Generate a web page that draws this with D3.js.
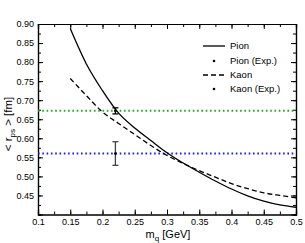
<!DOCTYPE html>
<html>
<head>
<meta charset="utf-8">
<script src="https://cdn.jsdelivr.net/npm/d3@7"></script>
<style>
  body { margin: 0; background: #fff; }
  svg text { font-family: "Liberation Sans", Arial, sans-serif; }
</style>
</head>
<body>
<div id="box"></div>
<script>
var w = 305,
    h = 243;

// quark mass grid [GeV]
var mq = [0.15, 0.175, 0.2, 0.225, 0.25, 0.275, 0.3, 0.325, 0.35, 0.375, 0.4, 0.425, 0.45, 0.475, 0.5];
// charge radius [fm]
var pion = [0.888, 0.795, 0.725, 0.666, 0.627, 0.594, 0.562, 0.535, 0.511, 0.488, 0.467, 0.449, 0.435, 0.425, 0.419];
var kaon = [0.757, 0.712, 0.669, 0.639, 0.610, 0.581, 0.555, 0.534, 0.515, 0.498, 0.481, 0.468, 0.457, 0.450, 0.444];

// experimental points: [mq, radius, error]
var pionExp = [0.22, 0.672, 0.008];
var kaonExp = [0.22, 0.560, 0.031];

var xTicks = [0.1, 0.15, 0.2, 0.25, 0.3, 0.35, 0.4, 0.45, 0.5];
var yTicks = [0.45, 0.5, 0.55, 0.6, 0.65, 0.7, 0.75, 0.8, 0.85, 0.9];
var legendLabels = ["Pion", "Pion (Exp.)", "Kaon", "Kaon (Exp.)"];

var m = {left: 38, right: 9, top: 24, bottom: 28.5};

var x = d3.scaleLinear().domain([0.1, 0.5]).range([m.left, w - m.right]);
var y = d3.scaleLinear().domain([0.4, 0.9]).range([h - m.bottom, m.top]);

var svg = d3.select("#box")
            .append("svg")
            .attr("width", w)
            .attr("height", h);

var xMinor = d3.range(0.1, 0.5001, 0.025);
var yMinor = d3.range(0.4, 0.9001, 0.025);

// bottom
svg.append("g")
   .attr("transform", "translate(0," + y(0.4) + ")")
   .call(d3.axisBottom(x).tickValues(xMinor).tickSize(-3).tickFormat(""));
svg.append("g")
   .attr("transform", "translate(0," + y(0.4) + ")")
   .call(d3.axisBottom(x).tickValues(xTicks).tickSize(-5).tickPadding(4)
         .tickFormat(d3.format("")));
// top
svg.append("g")
   .attr("transform", "translate(0," + y(0.9) + ")")
   .call(d3.axisTop(x).tickValues(xMinor).tickSize(-3).tickFormat(""));
svg.append("g")
   .attr("transform", "translate(0," + y(0.9) + ")")
   .call(d3.axisTop(x).tickValues(xTicks).tickSize(-5).tickFormat(""));
// left
svg.append("g")
   .attr("transform", "translate(" + x(0.1) + ",0)")
   .call(d3.axisLeft(y).tickValues(yMinor).tickSize(-3).tickFormat(""));
svg.append("g")
   .attr("transform", "translate(" + x(0.1) + ",0)")
   .call(d3.axisLeft(y).tickValues(yTicks).tickSize(-5).tickPadding(4)
         .tickFormat(d3.format(".2f")));
// right
svg.append("g")
   .attr("transform", "translate(" + x(0.5) + ",0)")
   .call(d3.axisRight(y).tickValues(yMinor).tickSize(-3).tickFormat(""));
svg.append("g")
   .attr("transform", "translate(" + x(0.5) + ",0)")
   .call(d3.axisRight(y).tickValues(yTicks).tickSize(-5).tickFormat(""));

svg.selectAll(".domain").attr("stroke", "#000").attr("stroke-width", 1.2);
svg.selectAll(".tick line").attr("stroke", "#000").attr("stroke-width", 1);
svg.selectAll(".tick text")
   .attr("font-family", "Liberation Sans, Arial, sans-serif")
   .attr("font-size", "9px")
   .attr("fill", "#000");

// experimental reference lines
svg.append("line")
   .attr("x1", x(0.1)).attr("x2", x(0.5))
   .attr("y1", y(pionExp[1])).attr("y2", y(pionExp[1]))
   .attr("stroke", "#22aa22").attr("stroke-width", 2)
   .attr("stroke-dasharray", "1.6,2.7");
svg.append("line")
   .attr("x1", x(0.1)).attr("x2", x(0.5))
   .attr("y1", y(kaonExp[1])).attr("y2", y(kaonExp[1]))
   .attr("stroke", "#1a1aff").attr("stroke-width", 2)
   .attr("stroke-dasharray", "1.6,2.7");

var line = d3.line()
             .x(function(d) { return x(d[0]); })
             .y(function(d) { return y(d[1]); })
             .curve(d3.curveMonotoneX);

svg.append("path")
   .datum(d3.zip(mq, pion))
   .attr("d", line)
   .attr("fill", "none")
   .attr("stroke", "#000")
   .attr("stroke-width", 1.3);

svg.append("path")
   .datum(d3.zip(mq, kaon))
   .attr("d", line)
   .attr("fill", "none")
   .attr("stroke", "#000")
   .attr("stroke-width", 1.3)
   .attr("stroke-dasharray", "5,3");

// error bars
function errBar(d, col) {
  var g = svg.append("g").attr("stroke", col).attr("stroke-width", 1.3);
  g.append("line")
   .attr("x1", x(d[0])).attr("x2", x(d[0]))
   .attr("y1", y(d[1] - d[2])).attr("y2", y(d[1] + d[2]));
  [d[1] - d[2], d[1] + d[2]].forEach(function(v) {
    g.append("line")
     .attr("x1", x(d[0]) - 3).attr("x2", x(d[0]) + 3)
     .attr("y1", y(v)).attr("y2", y(v));
  });
  svg.append("circle")
     .attr("cx", x(d[0])).attr("cy", y(d[1]))
     .attr("r", 1.4).attr("fill", "#000");
}
errBar(pionExp, "#000");
errBar(kaonExp, "#444");

// legend
var lx = 203, lys = [46, 61, 75, 89];
legendLabels.forEach(function(t, i) {
  var ly = lys[i];
  if (i === 0 || i === 2) {
    svg.append("line")
       .attr("x1", lx).attr("x2", lx + 22)
       .attr("y1", ly).attr("y2", ly)
       .attr("stroke", "#000").attr("stroke-width", 1.3)
       .attr("stroke-dasharray", i === 2 ? "5,3" : null);
  } else {
    svg.append("circle")
       .attr("cx", lx + 11).attr("cy", ly)
       .attr("r", 1.3).attr("fill", "#000");
  }
  svg.append("text")
     .attr("x", lx + 27).attr("y", ly + 3.3)
     .attr("font-size", "9.5px")
     .text(t);
});

// axis titles
var xt = svg.append("text")
            .attr("x", 168).attr("y", 237.5)
            .attr("text-anchor", "middle")
            .attr("font-size", "11px");
xt.append("tspan").text("m");
xt.append("tspan").attr("font-size", "8px").attr("dy", 3).text("q");
xt.append("tspan").attr("dy", -3).text(" [GeV]");

var yt = svg.append("text")
            .attr("transform", "translate(12,124) rotate(-90)")
            .attr("text-anchor", "middle")
            .attr("font-size", "11.5px");
yt.append("tspan").text("< r");
yt.append("tspan").attr("font-size", "8px").attr("dy", 3).text("ps");
yt.append("tspan").attr("dy", -3).text(" > [fm]");
</script>
</body>
</html>
